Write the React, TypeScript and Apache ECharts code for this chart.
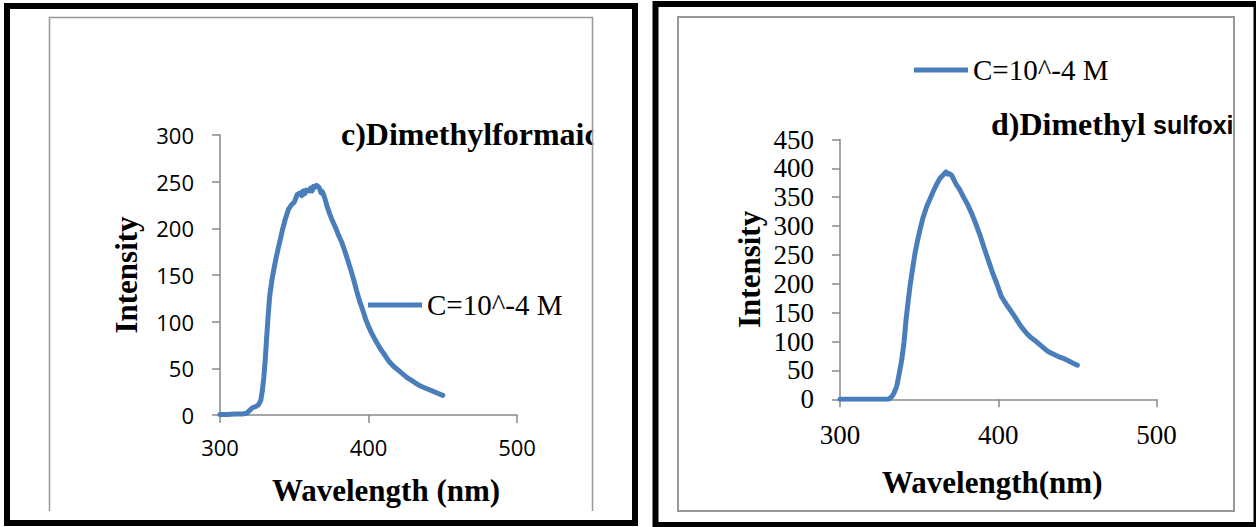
import React, { useEffect, useRef } from "react";
import * as echarts from "echarts";

// ---- data ----
const seriesName = "C=10^-4 M";

const dmfWavelength = [
  300, 305, 310, 315, 318, 320, 322, 324, 326, 327.5, 328.5, 329.5, 330.5, 331.5, 332.5, 333.5, 335, 336.5, 338, 340,
  342, 344, 346, 348, 350, 352, 354, 355, 356, 357, 358, 360, 361, 362, 363, 364, 365, 366, 367, 368, 369, 370, 371,
  372, 374, 376, 378, 380, 382, 384, 386, 388, 390, 392, 394, 396, 398, 400, 402, 405, 408, 411, 414, 417, 420, 423,
  426, 429, 432, 435, 438, 441, 444, 447, 450,
];
const dmfIntensity = [
  0.5, 0.5, 1, 1, 2, 5, 8, 9, 11, 16, 26, 40, 60, 85, 108, 128, 145, 158, 170, 184,
  198, 210, 220, 225, 228, 236, 238, 235, 240, 237, 241, 240, 243, 240, 245, 244, 246, 245, 243, 238, 239, 235, 230,
  224, 215, 207, 200, 192, 185, 176, 166, 156, 145, 133, 122, 113, 103, 95, 88, 79, 71, 64, 57, 52, 48, 44,
  40, 37, 34, 31, 29, 27, 25, 23, 21,
];

const dmsoWavelength = [
  300, 305, 310, 315, 320, 325, 330, 331, 332.7, 334, 335.8, 337, 339, 340.5, 341.7, 343, 344.2, 345.8, 347.4, 349,
  350.5, 352.5, 354.8, 357, 358.9, 361, 363.2, 365, 367, 368, 369, 370.6, 372, 373.7, 375.5, 377.9, 380.5, 383.2,
  385.8, 388.4, 391, 393.7, 396.3, 399, 402, 405, 407.5, 410, 412.5, 415, 418, 421, 424, 427, 430, 432, 435, 438,
  441, 444, 447, 450,
];
const dmsoIntensity = [
  0, 0, 0, 0, 0, 0, 0, 0.5, 4.5, 10, 22, 38, 68, 100, 137, 168, 195, 225, 253, 275,
  293, 315, 334, 348, 360, 372, 383, 388, 394, 390, 391, 388, 380, 371, 364, 351, 338, 322,
  304, 285, 263, 241, 220, 201, 178, 165, 155, 145, 134, 124, 114, 106, 100, 93, 86, 82, 78, 74,
  71, 67, 63, 59,
];

const xMin = 300;
const xMax = 500;
const xStep = 100;
const dmfYMax = 300;
const dmsoYMax = 450;
const yStep = 50;

const leftTitle = "c)Dimethylformaic";
const rightTitleA = "d)Dimethyl";
const rightTitleB = "sulfoxi";
const leftXName = "Wavelength (nm)";
const rightXName = "Wavelength(nm)";
const yName = "Intensity";

const BLUE = "#4A7EBB";
const AXIS = "#898989";

export default function App() {
  const ref = useRef<HTMLDivElement>(null);

  useEffect(() => {
    document.body.style.margin = "0";
    if (!ref.current) return;
    const chart = echarts.init(ref.current, undefined, { renderer: "svg" });

    const pairs = (xs: number[], ys: number[]) => xs.map((x, i) => [x, ys[i]]);

    const axisCommon = {
      axisLine: { show: true, lineStyle: { color: AXIS, width: 1.5 } },
      axisTick: { show: true, inside: false, length: 8, lineStyle: { color: AXIS, width: 1.5 } },
      splitLine: { show: false },
    };

    const serifBold = "'Liberation Serif', 'Times New Roman', serif";

    const option: any = {
      animation: false,
      backgroundColor: "#ffffff",
      grid: [
        { left: 220, top: 135, width: 297, height: 280 },
        { left: 840, top: 139.5, width: 316.5, height: 259.8 },
      ],
      legend: [
        {
          data: [seriesName],
          left: 368,
          top: 290,
          padding: 0,
          icon: "rect",
          itemWidth: 54,
          itemHeight: 5,
          selectedMode: false,
          textStyle: { fontFamily: serifBold, fontSize: 29, color: "#000", lineHeight: 30 },
        },
        {
          data: [seriesName],
          left: 914,
          top: 55,
          padding: 0,
          icon: "rect",
          itemWidth: 54,
          itemHeight: 5,
          selectedMode: false,
          textStyle: { fontFamily: serifBold, fontSize: 29, color: "#000", lineHeight: 30 },
        },
      ],
      xAxis: [
        {
          type: "value",
          gridIndex: 0,
          min: xMin,
          max: xMax,
          interval: xStep,
          ...axisCommon,
          axisLabel: { margin: 21, fontFamily: "'Open Sans', sans-serif", fontSize: 22, color: "#000" },
          name: leftXName,
          nameLocation: "middle",
          nameGap: 60,
          nameTextStyle: {
            fontFamily: serifBold,
            fontWeight: "bold",
            fontSize: 31,
            color: "#000",
            padding: [0, 0, 0, 35],
          },
        },
        {
          type: "value",
          gridIndex: 1,
          min: xMin,
          max: xMax,
          interval: xStep,
          ...axisCommon,
          axisLabel: { margin: 22, fontFamily: serifBold, fontSize: 27, color: "#000" },
          name: rightXName,
          nameLocation: "middle",
          nameGap: 68,
          nameTextStyle: {
            fontFamily: serifBold,
            fontWeight: "bold",
            fontSize: 31,
            color: "#000",
            padding: [0, 12, 0, 0],
          },
        },
      ],
      yAxis: [
        {
          type: "value",
          gridIndex: 0,
          min: 0,
          max: dmfYMax,
          interval: yStep,
          ...axisCommon,
          axisLabel: { margin: 26, fontFamily: "'Open Sans', sans-serif", fontSize: 22, color: "#000" },
          name: yName,
          nameLocation: "middle",
          nameGap: 78,
          nameTextStyle: { fontFamily: serifBold, fontWeight: "bold", fontSize: 31, color: "#000" },
        },
        {
          type: "value",
          gridIndex: 1,
          min: 0,
          max: dmsoYMax,
          interval: yStep,
          ...axisCommon,
          axisLabel: { margin: 26, fontFamily: serifBold, fontSize: 27, color: "#000" },
          name: yName,
          nameLocation: "middle",
          nameGap: 75,
          nameTextStyle: { fontFamily: serifBold, fontWeight: "bold", fontSize: 31, color: "#000" },
        },
      ],
      series: [
        {
          name: seriesName,
          type: "line",
          xAxisIndex: 0,
          yAxisIndex: 0,
          data: pairs(dmfWavelength, dmfIntensity),
          showSymbol: false,
          symbol: "none",
          color: BLUE,
          lineStyle: { color: BLUE, width: 5, cap: "round", join: "round" },
        },
        {
          name: seriesName,
          type: "line",
          xAxisIndex: 1,
          yAxisIndex: 1,
          data: pairs(dmsoWavelength, dmsoIntensity),
          showSymbol: false,
          symbol: "none",
          color: BLUE,
          lineStyle: { color: BLUE, width: 5, cap: "round", join: "round" },
        },
      ],
      graphic: [
        // titles
        {
          type: "text",
          x: 341,
          y: 133.5,
          z: 10,
          style: {
            text: leftTitle,
            font: `bold 32px ${serifBold}`,
            fill: "#000",
            align: "left",
            verticalAlign: "middle",
          },
        },
        {
          type: "text",
          x: 991,
          y: 123.5,
          z: 10,
          style: {
            text: rightTitleA,
            font: `bold 32px ${serifBold}`,
            fill: "#000",
            align: "left",
            verticalAlign: "middle",
          },
        },
        {
          type: "text",
          x: 1153,
          y: 125.3,
          z: 10,
          style: {
            text: rightTitleB,
            font: "bold 25px 'Liberation Sans', Arial, sans-serif",
            fill: "#000",
            align: "left",
            verticalAlign: "middle",
          },
        },
        // clip covers for titles overflowing the inner frames
        {
          type: "rect",
          z: 20,
          shape: { x: 593.4, y: 100, width: 38, height: 70 },
          style: { fill: "#ffffff" },
        },
        {
          type: "rect",
          z: 20,
          shape: { x: 1234.8, y: 100, width: 17, height: 70 },
          style: { fill: "#ffffff" },
        },
        // inner gray frames
        {
          type: "polyline",
          z: 30,
          shape: { points: [[49.5, 511], [49.5, 17.5], [592.5, 17.5], [592.5, 511]] },
          style: { fill: "none", stroke: "#999999", lineWidth: 1.5 },
        },
        {
          type: "rect",
          z: 30,
          shape: { x: 678, y: 17, width: 556, height: 494 },
          style: { fill: "none", stroke: "#999999", lineWidth: 2 },
        },
        // outer black frames
        {
          type: "rect",
          z: 30,
          shape: { x: 7, y: 6, width: 628, height: 517 },
          style: { fill: "none", stroke: "#000000", lineWidth: 6 },
        },
        {
          type: "rect",
          z: 30,
          shape: { x: 655.5, y: 4, width: 601, height: 521 },
          style: { fill: "none", stroke: "#000000", lineWidth: 6 },
        },
      ],
    };

    chart.setOption(option);
    return () => chart.dispose();
  }, []);

  return <div ref={ref} style={{ width: 1256, height: 527 }} />;
}
